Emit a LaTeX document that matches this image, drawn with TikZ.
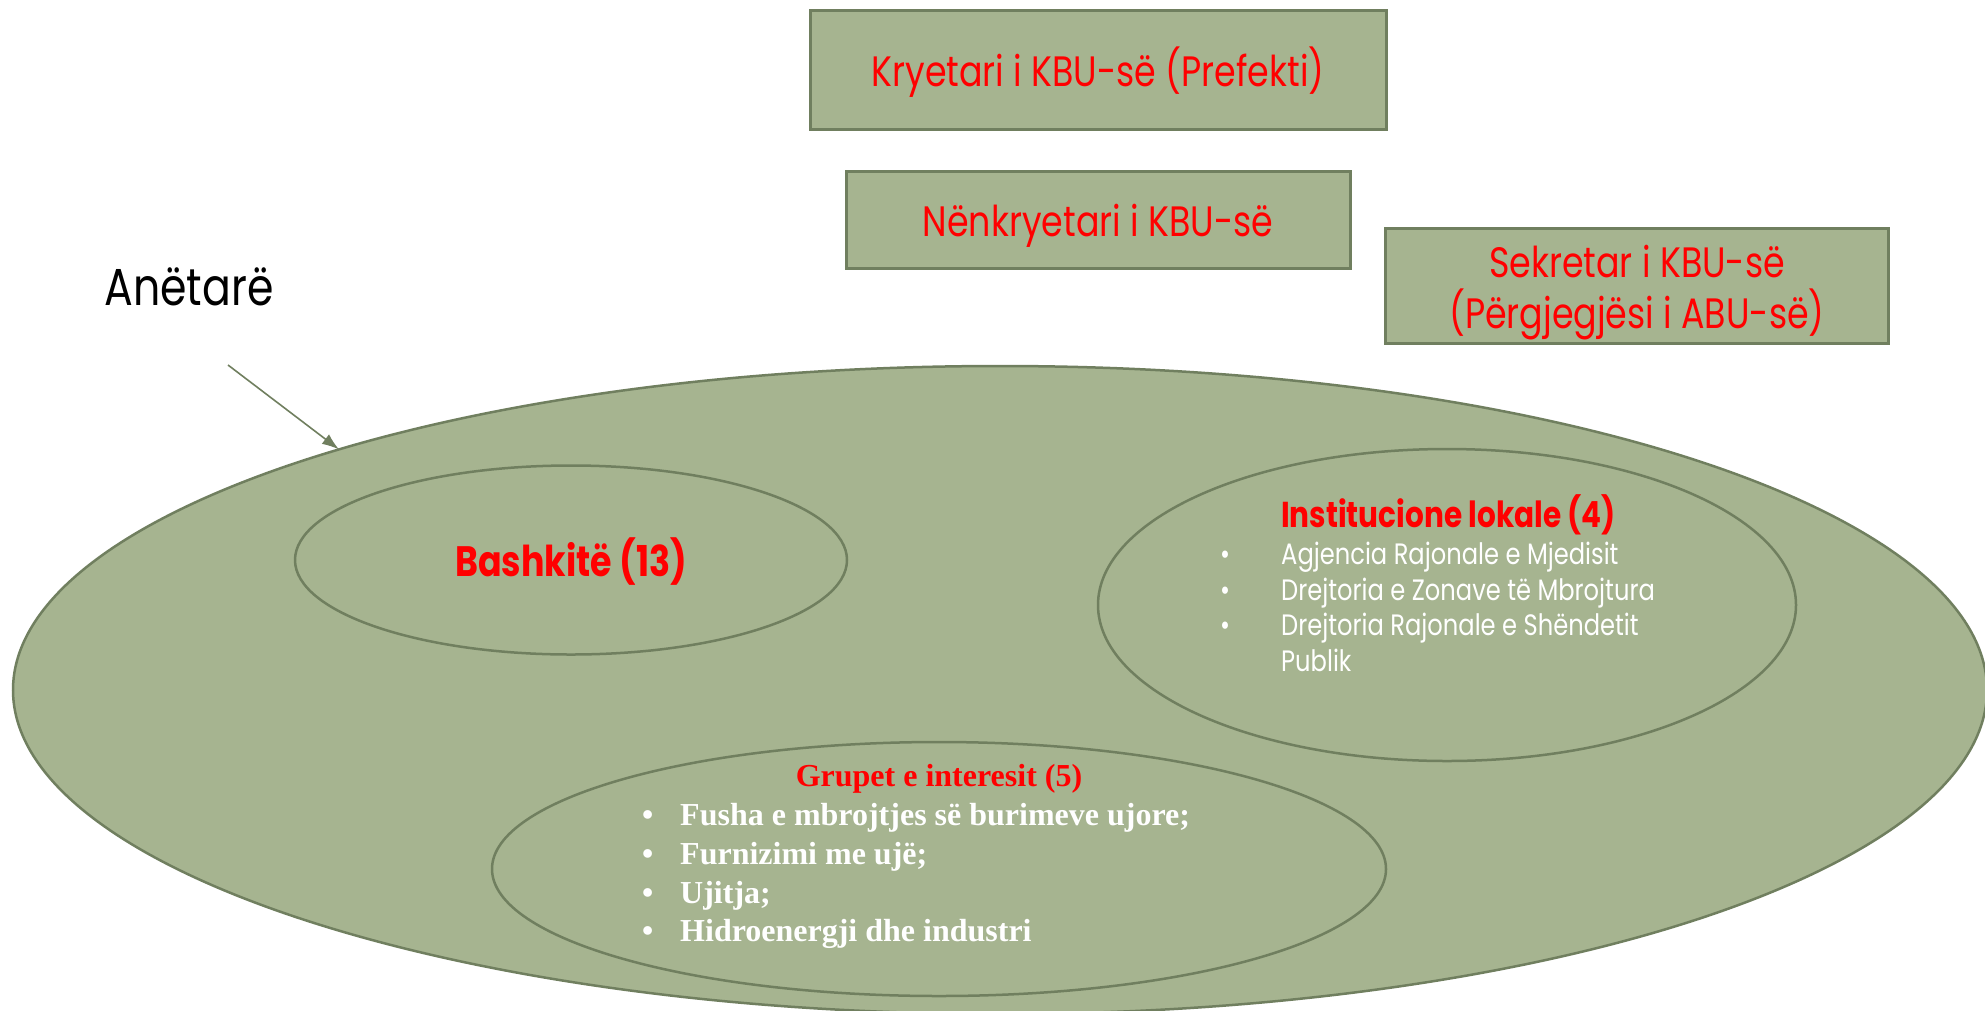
\documentclass[tikz,border=0pt]{standalone}
\usepackage{fontspec}
\usetikzlibrary{shapes.geometric,arrows.meta}
\newfontfamily\gothic[FakeStretch=0.82]{Poppins}
\newfontfamily\timesf{Liberation Serif}
\definecolor{olivefill}{RGB}{166,180,144}
\definecolor{olivedraw}{RGB}{112,127,95}
\begin{document}
\begin{tikzpicture}[x=1pt,y=-1pt,
  box/.style={rectangle, draw=olivedraw, fill=olivefill, line width=3pt, inner sep=0pt, outer sep=0pt,
    text=red, align=center, font=\gothic\fontsize{42.5}{51}\selectfont},
  oval/.style={ellipse, draw=olivedraw, fill=olivefill, line width=2.5pt, inner sep=0pt, outer sep=0pt},
  gtitle/.style={text=red, font=\gothic\bfseries\fontsize{36}{42}\selectfont, inner sep=0pt},
  gitem/.style={text=white, font=\gothic\fontsize{29.5}{34}\selectfont, inner sep=0pt, anchor=base west},
  ttitle/.style={text=red, font=\timesf\bfseries\fontsize{32}{36}\selectfont, inner sep=0pt, anchor=base},
  titem/.style={text=white, font=\timesf\bfseries\fontsize{32}{36}\selectfont, inner sep=0pt, anchor=base west},
  arr/.style={draw=olivedraw, line width=1.6pt, -{Latex[length=17pt,width=12pt]}}
]
\useasboundingbox[fill=white] (0,0) rectangle (1985,1010);
\begin{scope}
\clip (0,0) rectangle (1985,1010);
% top boxes
\node[box, minimum width=576pt, minimum height=119pt] (pres) at (1098,70) {};
\node[text=red, font=\gothic\fontsize{42.5}{51}\selectfont, inner sep=0pt] (prestxt) at ([yshift=-2.5pt]pres.center) {Kryetari i KBU-së (Prefekti)};
\node[box, minimum width=504pt, minimum height=97pt] (vice) at (1098,220) {};
\node[text=red, font=\gothic\fontsize{42.5}{51}\selectfont, inner sep=0pt] (vicetxt) at ([yshift=-6pt]vice.center) {Nënkryetari i KBU-së};
\node[box, minimum width=503pt, minimum height=115pt] (sec) at (1637,286) {};
\node[text=red, align=center, font=\gothic\fontsize{42.5}{51}\selectfont, inner sep=0pt] (sectxt) at ([yshift=-7pt]sec.center) {Sekretar i KBU-së\\(Përgjegjësi i ABU-së)};
% members label
\node[inner sep=0pt, font=\gothic\fontsize{52}{58}\selectfont] (anet) at (189,287) {Anëtarë};
\coordinate (arrstart) at (228,365);
% big ellipse
\node[oval, minimum width=1974pt, minimum height=648pt] (big) at (1000,690) {};
\draw[arr] (arrstart) -- (big.160.6);
% Bashkite
\node[oval, minimum width=552pt, minimum height=189pt] (bash) at (571,560) {};
\node[gtitle, font=\gothic\bfseries\fontsize{42.5}{48}\selectfont] (bashlbl) at (571,562) {Bashkitë (13)};
% Institucione
\node[oval, minimum width=698pt, minimum height=312pt] (inst) at (1447,605) {};
\node[gtitle, anchor=base west] (instlbl) at (1281,527) {Institucione lokale (4)};
\node[gitem] (i1b) at (1220,564) {•};
\node[gitem] (i1) at (1281,564) {Agjencia Rajonale e Mjedisit};
\node[gitem] (i2b) at (1220,600) {•};
\node[gitem] (i2) at (1281,600) {Drejtoria e Zonave të Mbrojtura};
\node[gitem] (i3b) at (1220,635) {•};
\node[gitem] (i3) at (1281,635) {Drejtoria Rajonale e Shëndetit};
\node[gitem] (i4) at (1281,671) {Publik};
% Grupet
\node[oval, minimum width=894pt, minimum height=254pt] (grup) at (939,869) {};
\node[ttitle] (gruplbl) at (939,786) {Grupet e interesit (5)};
\node[titem] (g1b) at (642,825) {•};
\node[titem] (g1) at (680,825) {Fusha e mbrojtjes së burimeve ujore;};
\node[titem] (g2b) at (642,864) {•};
\node[titem] (g2) at (680,864) {Furnizimi me ujë;};
\node[titem] (g3b) at (642,903) {•};
\node[titem] (g3) at (680,903) {Ujitja;};
\node[titem] (g4b) at (642,941) {•};
\node[titem] (g4) at (680,941) {Hidroenergji dhe industri};
\end{scope}
\end{tikzpicture}
\end{document}
